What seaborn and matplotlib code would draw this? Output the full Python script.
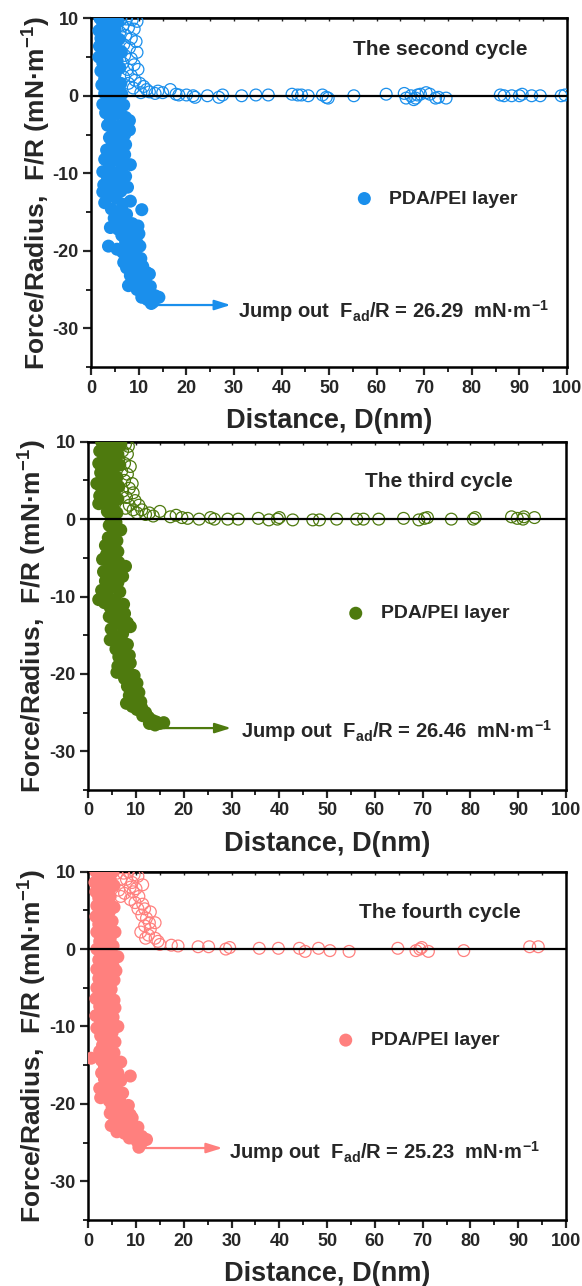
import matplotlib
matplotlib.use("Agg")
import matplotlib.pyplot as plt
import seaborn as sns

# ---------------- data ----------------
x_ticks = [0, 10, 20, 30, 40, 50, 60, 70, 80, 90, 100]
y_ticks = [-30, -20, -10, 0, 10]
cycle_titles = ["The second cycle", "The third cycle", "The fourth cycle"]
adhesion = ["26.29", "26.46", "25.23"]
legend_label = "PDA/PEI layer"
colors = ["#1A8FEC", "#4E7A0E", "#FF807E"]

# second cycle (blue) - retraction (filled)
c2_fill_x = [1.8, 3.0, 4.4, 5.6, 2.4, 3.8, 1.6, 5.0, 3.0, 4.4,
             2.0, 5.8, 3.6, 1.7, 5.0, 2.8, 4.3, 6.3, 1.6, 3.4,
             5.4, 2.4, 4.2, 6.0, 2.0, 3.4, 5.0, 2.8, 4.4, 6.2,
             2.2, 3.6, 5.2, 2.8, 4.4, 6.4, 3.4, 5.4, 2.4, 6.8,
             4.2, 3.0, 5.6, 7.2, 4.0, 8.0, 3.4, 5.8, 8.0, 4.6,
             7.0, 3.8, 5.8, 7.2, 4.4, 3.2, 5.6, 7.0, 4.2, 2.8,
             5.8, 8.2, 3.8, 6.4, 2.4, 4.8, 7.2, 3.4, 5.8, 2.6,
             4.4, 7.6, 6.2, 2.4, 3.8, 5.2, 8.2, 2.8, 6.6, 10.6,
             4.2, 5.8, 7.4, 4.8, 6.6, 8.6, 9.8, 4.0, 5.6, 7.8,
             10.0, 6.4, 8.8, 7.2, 9.6, 3.6, 5.4, 8.2, 10.2, 6.6,
             9.2, 7.8, 10.4, 6.8, 8.8, 10.8, 7.4, 9.4, 11.6, 8.2,
             10.2, 12.2, 7.8, 9.0, 11.0, 12.4, 9.6, 10.8, 12.0, 13.4,
             10.6, 11.8, 13.0, 14.2, 12.6]
c2_fill_y = [10.0, 10.0, 9.9, 9.6, 9.2, 9.0, 8.4, 8.6, 8.0, 7.8,
             7.4, 7.3, 6.9, 6.4, 6.5, 6.0, 5.6, 5.7, 5.0, 4.9,
             4.6, 4.2, 3.9, 3.6, 3.2, 3.0, 2.8, 2.2, 1.9, 1.6,
             1.4, 1.0, 0.8, 0.3, 0.0, 0.2, -0.6, -0.8, -1.1, -1.2,
             -1.6, -2.2, -2.3, -2.8, -3.0, -3.2, -3.8, -3.9, -4.4, -4.6,
             -5.0, -5.4, -5.7, -6.3, -6.1, -7.0, -7.0, -7.6, -7.9, -8.2,
             -8.4, -8.9, -9.0, -9.4, -9.8, -10.0, -10.4, -10.6, -10.9, -11.5,
             -11.6, -11.8, -12.3, -12.4, -12.8, -13.2, -13.6, -13.8, -14.0, -14.7,
             -14.6, -15.0, -15.3, -15.8, -16.2, -16.5, -16.8, -17.0, -17.2, -17.4,
             -17.8, -18.0, -18.4, -18.9, -19.0, -19.4, -19.8, -19.6, -19.4, -20.2,
             -20.4, -20.8, -21.0, -21.5, -21.6, -22.0, -22.2, -22.6, -22.8, -23.2,
             -23.4, -23.0, -24.5, -24.0, -24.2, -24.6, -25.0, -25.4, -25.6, -25.8,
             -26.0, -26.3, -26.6, -26.0, -26.8]
# second cycle - approach (open)
c2_open_x = [5.0, 6.2, 7.4, 8.6, 9.6, 6.6, 7.8, 9.0, 6.0, 7.2,
             8.4, 9.4, 6.8, 8.0, 9.6, 7.0, 8.4, 6.6, 9.0, 9.8,
             7.6, 8.4, 6.8, 9.2, 7.8, 10.2, 11.0, 8.8, 11.6, 10.4,
             12.2, 13.4, 14.0, 15.0, 16.6, 17.8, 18.4, 20.0, 21.4, 21.8,
             24.4, 26.8, 27.6, 31.6, 34.6, 37.2, 42.2, 43.4, 44.2, 45.6,
             48.6, 49.4, 49.8, 55.2, 62.0, 65.8, 66.2, 67.2, 67.8, 68.6,
             68.2, 69.2, 70.4, 71.2, 72.4, 73.0, 74.6, 86.0, 86.8, 88.4,
             90.0, 90.6, 92.6, 94.4, 98.8, 99.6]
c2_open_y = [9.9, 9.8, 9.9, 9.8, 9.6, 9.0, 8.8, 8.6, 8.2, 7.8,
             7.4, 7.0, 6.6, 6.2, 5.6, 5.2, 4.8, 4.2, 4.0, 3.4,
             3.4, 2.6, 2.4, 2.0, 1.6, 1.6, 1.2, 1.0, 0.8, 0.4,
             0.5, 0.3, 0.6, 0.4, 0.8, 0.2, 0.1, 0.1, 0.0, -0.2,
             0.0, -0.2, 0.1, 0.0, 0.1, 0.1, 0.2, 0.1, 0.1, 0.0,
             0.1, -0.2, -0.3, 0.0, 0.2, 0.3, -0.3, 0.0, -0.5, 0.1,
             -0.3, 0.2, 0.4, 0.2, -0.3, -0.2, -0.3, 0.1, 0.0, 0.0,
             0.0, 0.2, 0.0, 0.0, 0.0, 0.1]

# third cycle (green)
c3_fill_x = [2.8, 4.2, 5.6, 6.8, 3.4, 2.4, 4.8, 6.2, 3.6, 5.4,
             2.2, 4.2, 6.6, 3.0, 5.2, 2.6, 4.0, 6.0, 3.2, 1.8,
             4.8, 6.4, 2.8, 3.8, 5.4, 2.4, 4.4, 6.2, 2.2, 3.4,
             5.2, 4.0, 6.0, 4.8, 5.8, 4.4,
             6.8, 5.2, 4.2, 6.0, 3.6, 5.0, 6.2, 3.8, 5.4, 3.0,
             6.4, 7.8, 4.4, 3.2, 5.8, 7.2, 4.8, 3.6, 6.2, 4.8,
             2.8, 6.6, 4.0, 2.2, 5.6, 3.4, 7.4, 4.6, 6.2, 7.6,
             4.4, 5.8, 8.2, 8.8, 6.8, 4.8, 7.2, 5.6, 4.6, 6.8,
             8.2, 5.8, 7.6, 8.6, 6.4, 7.8, 8.8, 6.2, 7.2, 6.0,
             8.4, 9.6, 7.6, 9.0, 10.2, 8.2, 9.4, 10.6, 8.6, 9.8,
             8.0, 11.0, 9.2, 11.2, 10.2, 12.0, 11.4, 12.6, 13.4, 12.8,
             14.2, 15.0, 15.8, 14.0]
c3_fill_y = [10.0, 10.0, 9.8, 9.6, 9.2, 8.8, 8.6, 8.4, 8.0, 7.6,
             7.2, 7.0, 7.0, 6.6, 6.2, 6.0, 5.6, 5.4, 5.0, 4.6,
             4.6, 4.2, 4.0, 3.6, 3.4, 3.0, 2.6, 2.6, 2.0, 2.0,
             1.6, 1.0, 0.8, 0.2, -0.4, -0.8,
             -1.4, -1.8, -2.4, -2.8, -3.4, -3.6, -4.2, -4.6, -5.0, -5.2,
             -5.6, -6.1, -6.0, -6.8, -6.6, -7.4, -7.4, -8.0, -8.2, -8.8,
             -9.2, -9.4, -9.8, -10.4, -10.4, -10.8, -11.0, -11.4, -11.8, -12.2,
             -12.6, -13.0, -13.4, -13.9, -13.6, -14.2, -14.8, -15.2, -15.6, -16.0,
             -16.2, -16.8, -17.0, -17.6, -17.8, -18.4, -18.6, -19.0, -19.4, -19.8,
             -19.8, -20.2, -20.6, -21.0, -21.2, -21.6, -22.0, -22.4, -22.8, -23.2,
             -23.8, -23.6, -24.2, -24.4, -24.6, -25.0, -25.4, -25.6, -26.0, -26.4,
             -26.2, -26.4, -26.3, -26.6]
c3_open_x = [5.6, 6.8, 7.8, 8.4, 7.2, 8.2, 6.4, 7.6, 8.8, 7.0,
             8.2, 9.2, 7.6, 8.6, 7.2, 9.4, 8.0, 9.8, 8.6, 10.6,
             7.8, 9.4, 11.2, 10.2, 12.0, 12.8, 13.6, 15.0, 17.2, 18.4,
             19.6, 20.8, 23.2, 25.6, 26.4, 29.2, 31.4, 35.6, 37.8, 39.6, 40.0,
             42.8, 47.0, 48.4, 52.0, 56.2, 57.6, 60.8, 66.0, 69.2, 70.4,
             71.0, 76.0, 80.6, 81.0, 88.6, 89.8, 91.0, 91.2, 93.4]
c3_open_y = [9.9, 9.8, 9.7, 9.4, 8.8, 8.4, 7.8, 7.2, 6.8, 6.2,
             5.8, 4.6, 5.0, 4.0, 3.6, 3.4, 2.8, 2.4, 1.8, 1.8,
             1.4, 1.2, 1.2, 0.8, 0.6, 0.8, 0.4, 1.0, 0.3, 0.5,
             0.2, 0.1, 0.0, 0.2, 0.0, 0.0, 0.0, 0.1, -0.1, 0.0, 0.2,
             -0.1, -0.1, -0.1, 0.0, 0.0, 0.0, 0.0, 0.1, -0.1, 0.1,
             0.2, 0.0, 0.0, 0.2, 0.3, 0.1, 0.0, 0.3, 0.2]

# fourth cycle (pink)
c4_fill_x = [1.6, 2.8, 4.0, 5.2, 2.2, 3.4, 4.6, 1.4, 2.8, 4.0,
             5.4, 1.6, 3.2, 4.6, 2.2, 3.8, 5.4, 1.8, 2.8, 4.4,
             1.6, 3.4, 5.0, 2.2, 4.2, 5.6, 1.8, 3.0, 4.6, 2.4,
             3.8, 5.2, 1.8, 3.0, 4.4, 6.2,
             2.2, 3.6, 5.2, 1.8, 5.8, 3.0, 4.4, 2.2, 5.4, 3.6,
             1.8, 4.8, 2.8, 4.0, 1.6, 5.4, 3.2, 5.6, 2.4, 4.2,
             1.6, 3.4, 5.2, 2.6, 4.4, 6.2, 1.8, 3.6, 5.0, 2.6,
             4.2, 5.6, 3.0, 4.6, 2.4, 3.8, 5.4, 0.6, 2.8, 4.6,
             6.8,
             3.4, 5.4, 2.8, 4.2, 6.2, 8.8, 3.4, 5.2, 6.8, 2.4,
             4.4, 6.0, 3.4, 5.2, 7.2, 2.6, 4.4, 6.6, 8.4, 5.0,
             7.4, 4.6, 6.2, 8.8, 9.2, 5.6, 7.2, 4.8, 6.6, 8.4,
             10.4, 6.0, 7.6, 9.4, 11.2, 12.2, 8.6, 10.2, 11.0, 10.6]
c4_fill_y = [10.0, 10.0, 10.0, 10.0, 9.4, 9.2, 9.0, 8.6, 8.2, 8.0,
             8.2, 7.4, 7.2, 6.8, 6.6, 6.0, 5.4, 5.6, 5.0, 4.8,
             4.2, 4.0, 3.6, 3.2, 2.8, 2.2, 2.2, 1.8, 1.4, 1.0,
             0.6, 0.4, 0.0, -0.4, -0.8, -1.0,
             -1.4, -1.8, -2.2, -2.6, -2.8, -3.0, -3.4, -3.8, -4.0, -4.4,
             -5.0, -5.2, -5.6, -6.0, -6.4, -6.6, -6.8, -7.6, -7.4, -7.8,
             -8.6, -8.6, -8.8, -9.4, -9.6, -10.0, -10.2, -10.4, -10.8, -11.2,
             -11.6, -12.0, -12.4, -12.8, -13.2, -13.6, -13.4, -14.1, -14.4, -14.6,
             -14.6,
             -15.2, -15.4, -16.0, -16.2, -16.0, -16.4, -16.8, -17.2, -17.0, -18.0,
             -17.8, -18.2, -18.6, -18.8, -18.6, -19.2, -19.6, -19.6, -20.2, -20.4,
             -20.8, -21.2, -21.4, -21.4, -21.8, -22.0, -22.2, -22.8, -23.0, -22.8,
             -23.0, -23.6, -23.8, -24.0, -24.2, -24.6, -24.4, -24.8, -25.2, -25.6]
c4_open_x = [4.8, 6.0, 7.4, 8.4, 9.6, 10.4, 6.8, 8.0, 9.2, 11.4,
             8.8, 10.0, 6.4, 7.6, 9.4, 6.8, 8.8, 10.6, 11.4, 9.8,
             10.4, 11.8, 13.0, 11.2, 12.2, 12.8, 14.0, 11.8, 13.0, 11.0,
             12.6, 14.0, 12.0, 14.6, 15.0, 17.4, 18.8, 23.0, 25.2, 28.8,
             29.6, 35.8, 39.8, 44.2, 45.4, 48.2, 50.6, 54.6, 64.8, 68.6,
             69.4, 69.8, 71.2, 78.6, 92.4, 94.2]
c4_open_y = [9.9, 9.8, 9.8, 10.0, 9.6, 9.4, 9.0, 9.0, 8.6, 8.3,
             8.0, 7.8, 7.6, 7.2, 7.4, 6.8, 6.4, 6.8, 5.8, 6.0,
             5.2, 5.2, 4.8, 4.4, 4.0, 3.4, 3.4, 3.0, 2.6, 2.2,
             1.8, 1.4, 1.4, 1.0, 0.6, 0.5, 0.4, 0.3, 0.3, 0.0,
             0.2, 0.1, 0.1, 0.1, -0.3, 0.1, -0.2, -0.3, 0.1, -0.2,
             0.0, 0.2, -0.3, -0.2, 0.3, 0.3]

fill_x = [c2_fill_x, c3_fill_x, c4_fill_x]
fill_y = [c2_fill_y, c3_fill_y, c4_fill_y]
open_x = [c2_open_x, c3_open_x, c4_open_x]
open_y = [c2_open_y, c3_open_y, c4_open_y]

# ---------------- style ----------------
sns.set_theme(style="ticks")
plt.rcParams["font.family"] = ["Liberation Sans", "DejaVu Sans"]
plt.rcParams["font.weight"] = "bold"
plt.rcParams["mathtext.fontset"] = "custom"
plt.rcParams["mathtext.rm"] = "Liberation Sans:bold"
plt.rcParams["mathtext.bf"] = "Liberation Sans:bold"
plt.rcParams["mathtext.it"] = "Liberation Sans:bold"
plt.rcParams["mathtext.default"] = "bf"

fig = plt.figure(figsize=(5.82, 12.86), dpi=100)
positions = [[0.157, 0.7146, 0.817, 0.2712],
             [0.1516, 0.3857, 0.8209, 0.2708],
             [0.1516, 0.0513, 0.8209, 0.2709]]

title_pos = [(55.0, 5.3), (58.0, 4.2), (56.7, 4.0)]
legend_pos = [(57.4, -13.3), (56.0, -12.2), (53.9, -11.8)]
arrow_pos = [(13.7, 29.3, -27.0), (15.0, 29.9, -27.0), (11.1, 28.1, -25.7)]
jump_pos = [(30.9, -28.7), (32.0, -28.2), (29.5, -27.1)]

for i in range(3):
    ax = fig.add_axes(positions[i])
    col = colors[i]
    sns.scatterplot(x=fill_x[i], y=fill_y[i], ax=ax, color=col, s=88,
                    edgecolor="none", linewidth=0, label=legend_label, zorder=3)
    sns.scatterplot(x=open_x[i], y=open_y[i], ax=ax, s=72, facecolor="none",
                    edgecolor=col, linewidth=0.9, zorder=4)
    ax.axhline(0, color="black", lw=1.6, zorder=5)
    ax.set_xlim(0, 100)
    ax.set_ylim(-35, 10)
    ax.set_xticks(x_ticks)
    ax.set_yticks(y_ticks)
    ax.set_xticks(range(5, 100, 10), minor=True)
    ax.set_yticks([-35, -25, -15, -5, 5], minor=True)
    ax.set_xticklabels([str(v) for v in x_ticks], fontsize=13, fontweight="bold")
    ax.set_yticklabels([str(v) for v in y_ticks], fontsize=13, fontweight="bold")
    ax.tick_params(which="major", direction="out", length=6, width=1.6, pad=3)
    ax.tick_params(which="minor", direction="out", length=3.5, width=1.4)
    for sp in ax.spines.values():
        sp.set_linewidth(1.8)
        sp.set_color("black")
    top = ax.secondary_xaxis("top")
    top.set_xticks(x_ticks)
    top.set_xticks(range(5, 100, 10), minor=True)
    top.tick_params(which="both", direction="in", length=2.5, width=1.0, labeltop=False)
    top.set_xticklabels([])

    ax.set_xlabel("Distance, D(nm)", fontsize=19.5, fontweight="bold", labelpad=8)
    ax.set_ylabel("Force/Radius,  F/R (mN·m$^{-1}$)", fontsize=19, fontweight="bold", labelpad=0)

    ax.text(title_pos[i][0], title_pos[i][1], cycle_titles[i], fontsize=15,
            fontweight="bold", ha="left", va="baseline")
    x0, x1, ya = arrow_pos[i]
    ax.annotate("", xy=(x1, ya), xytext=(x0, ya),
                arrowprops=dict(arrowstyle="-|>,head_length=0.8,head_width=0.25",
                                color=col, lw=1.6, shrinkA=0, shrinkB=0))
    ax.text(jump_pos[i][0], jump_pos[i][1],
            "Jump out  $F_{ad}$/R = " + adhesion[i] + "  mN·m$^{-1}$",
            fontsize=14.5, fontweight="bold", ha="left", va="baseline")

    lx, ly = legend_pos[i]
    leg = ax.legend(loc="center left", bbox_to_anchor=(lx - 2.04, ly),
                    bbox_transform=ax.transData, frameon=False, fontsize=14,
                    handlelength=1.0, handletextpad=0.78, borderpad=0,
                    borderaxespad=0, markerscale=1.0)
    for t in leg.get_texts():
        t.set_fontweight("bold")

fig.savefig("out.png", dpi=100)
